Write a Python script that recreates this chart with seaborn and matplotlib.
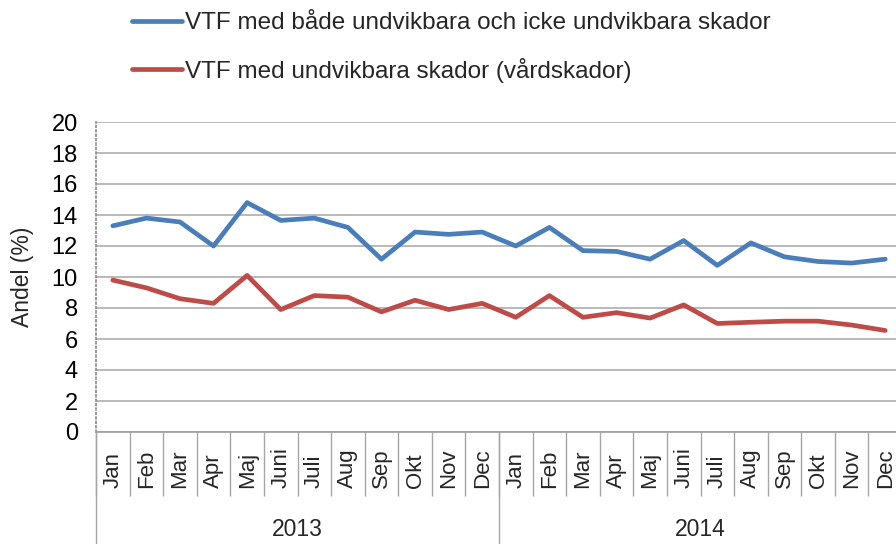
import numpy as np
import pandas as pd
import matplotlib
matplotlib.use("Agg")
import matplotlib.pyplot as plt
import seaborn as sns

# Data
months = ['Jan', 'Feb', 'Mar', 'Apr', 'Maj', 'Juni', 'Juli', 'Aug', 'Sep', 'Okt', 'Nov', 'Dec']
years = ['2013', '2014']

vtf_all = [13.3, 13.8, 13.55, 12.0, 14.8, 13.65, 13.8, 13.2, 11.15, 12.9, 12.75, 12.9,
           12.0, 13.2, 11.7, 11.65, 11.15, 12.35, 10.75, 12.2, 11.3, 11.0, 10.9, 11.15]
vtf_avoid = [9.8, 9.3, 8.6, 8.3, 10.1, 7.9, 8.8, 8.7, 7.75, 8.5, 7.9, 8.3,
             7.4, 8.8, 7.4, 7.7, 7.35, 8.2, 7.0, 7.08, 7.15, 7.15, 6.9, 6.55]

label_all = 'VTF med både undvikbara och icke undvikbara skador'
label_avoid = 'VTF med undvikbara skador (vårdskador)'

sns.set_theme(style="white")
plt.rcParams['font.family'] = ['Liberation Sans', 'DejaVu Sans']

n = len(vtf_all)
df = pd.DataFrame({
    'pos': list(range(n)) * 2,
    'andel': vtf_all + vtf_avoid,
    'serie': [label_all] * n + [label_avoid] * n,
})

W, H = 896, 544
fig = plt.figure(figsize=(W / 100, H / 100), dpi=100)
ax = fig.add_axes([96 / W, 112 / H, 806 / W, 310 / H])

sns.lineplot(data=df, x='pos', y='andel', hue='serie', ax=ax,
             palette={label_all: '#4a7ebb', label_avoid: '#be4b48'},
             linewidth=3.4, legend=False)

ax.set_xlim(-0.5, n - 0.5)
ax.set_ylim(0, 20)
ax.set_yticks(np.arange(0, 21, 2))
ax.yaxis.grid(True, color='#a6a6a6', linewidth=1.1)
ax.set_axisbelow(True)
ax.set_xticks([])
ax.set_xlabel('')
ax.set_ylabel('')
ax.tick_params(axis='y', labelsize=17, colors='#888888', length=5, width=1,
               direction='out', pad=8, labelcolor='black')
for s in ['top', 'right']:
    ax.spines[s].set_visible(False)
ax.spines['left'].set_linestyle(':')
ax.spines['left'].set_color('#888888')
ax.spines['left'].set_linewidth(1.2)
ax.spines['bottom'].set_color('#a0a0a0')

# category separators below the axis
xt = ax.get_xaxis_transform()
ax.vlines(np.arange(n + 1) - 0.5, 0, -64 / 310, transform=xt, clip_on=False,
          color='#a6a6a6', linewidth=1)
ax.vlines([-0.5, 11.5, 23.5], 0, -115 / 310, transform=xt, clip_on=False,
          color='#a6a6a6', linewidth=1)

month_labels = months * len(years)
for i, m in enumerate(month_labels):
    ax.text(i, -56 / 310, m, transform=xt, rotation=90, ha='center', va='bottom',
            fontsize=16)
for k, yr in enumerate(years):
    ax.text(k * 12 + 5.5, -97 / 310, yr, transform=xt, ha='center', va='center',
            fontsize=16.5)

fig.text(22 / W, (H - 277) / H, 'Andel (%)', rotation=90, ha='center', va='center',
         fontsize=16.5)

# legend above the plot
handles = [plt.Line2D([], [], color='#4a7ebb', lw=3.4),
           plt.Line2D([], [], color='#be4b48', lw=3.4)]
fig.legend(handles, [label_all, label_avoid], loc='upper left',
           bbox_to_anchor=(132 / W, 1 - 12 / H), frameon=False, fontsize=17.5,
           borderpad=0, borderaxespad=0, handlelength=2.05, handletextpad=0.15,
           labelspacing=0.98)

fig.savefig('out.png', dpi=100)
